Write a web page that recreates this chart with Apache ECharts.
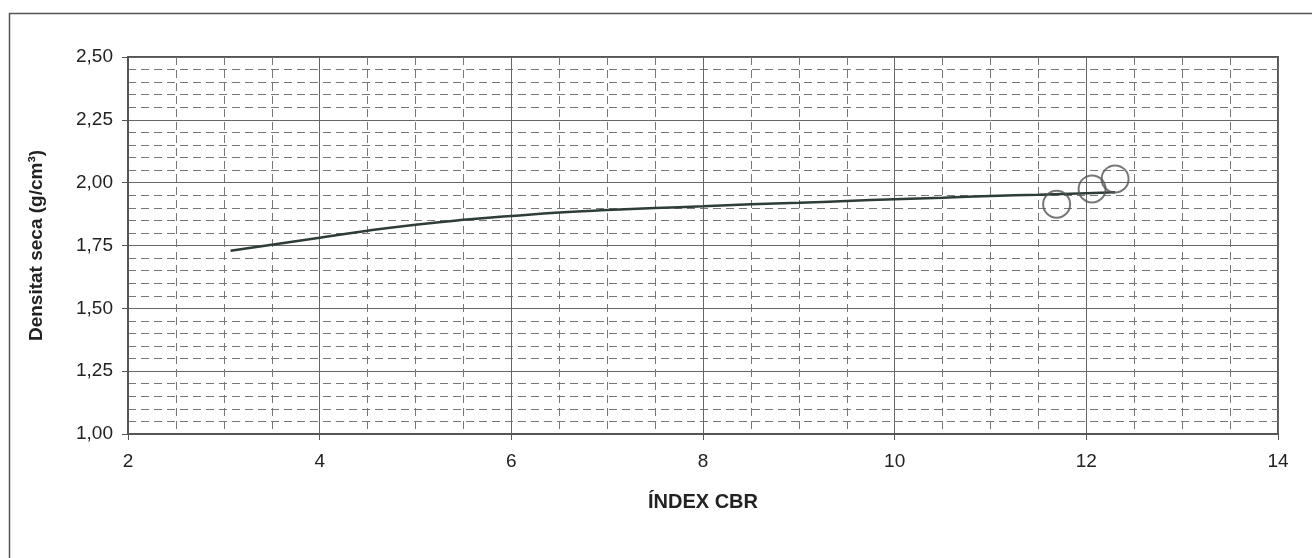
<!DOCTYPE html>
<html>
<head>
<meta charset="utf-8">
<script src="https://cdn.jsdelivr.net/npm/echarts@6/dist/echarts.min.js"></script>
<style>html,body{margin:0;padding:0;background:#fff;}#c{width:1312px;height:558px;}</style>
</head>
<body>
<div id="c"></div>
<script>
// Trend line
const trendX = [3.07, 4.0, 4.5, 5.0, 5.5, 6.0, 6.5, 7.0, 7.5, 8.0, 8.5, 9.0, 9.5, 10.0, 10.5, 11.0, 11.5, 12.0, 12.3];
const trendY = [1.729, 1.781, 1.809, 1.833, 1.852, 1.867, 1.881, 1.891, 1.899, 1.906, 1.914, 1.920, 1.927, 1.934, 1.940, 1.947, 1.952, 1.958, 1.962];
// Measured points
const pointX = [11.69, 12.06, 12.30];
const pointY = [1.914, 1.975, 2.015];

const xTitle = 'ÍNDEX CBR';
const yTitle = 'Densitat seca (g/cm³)';

const chart = echarts.init(document.getElementById('c'), null, {renderer: 'canvas'});
const textColor = '#222';
const font = '"Liberation Sans", Arial, sans-serif';
chart.setOption({
  backgroundColor: '#fff',
  animation: false,
  graphic: [{
    type: 'rect', left: 7, top: 11, shape: {width: 1330, height: 580},
    style: {fill: 'none', stroke: '#555', lineWidth: 1.5}, silent: true, z: -1
  }],
  grid: {left: 128, right: 34, top: 57, height: 377, show: true, borderColor: '#555', borderWidth: 2, backgroundColor: 'transparent'},
  xAxis: {
    type: 'value', min: 2, max: 14, interval: 2,
    name: xTitle, nameLocation: 'middle', nameGap: 58,
    nameTextStyle: {color: textColor, fontSize: 20, fontWeight: 'bold', fontFamily: font},
    axisLine: {show: true, onZero: false, lineStyle: {color: '#555', width: 2}},
    axisTick: {show: true, length: 6, lineStyle: {color: '#555'}},
    axisLabel: {color: textColor, fontSize: 19, fontFamily: font, margin: 18},
    splitLine: {show: true, lineStyle: {color: '#666', width: 1}},
    minorTick: {show: false, splitNumber: 4},
    minorSplitLine: {show: true, lineStyle: {color: '#777', width: 1, type: [8, 5]}}
  },
  yAxis: {
    type: 'value', min: 1, max: 2.5, interval: 0.25,
    name: yTitle, nameLocation: 'middle', nameGap: 82, nameRotate: 90,
    nameTextStyle: {color: textColor, fontSize: 19, fontWeight: 'bold', fontFamily: font},
    axisLine: {show: true, onZero: false, lineStyle: {color: '#555', width: 2}},
    axisTick: {show: true, length: 6, lineStyle: {color: '#555'}},
    axisLabel: {color: textColor, fontSize: 19, fontFamily: font, margin: 15,
      formatter: v => v.toFixed(2).replace('.', ',')},
    splitLine: {show: true, lineStyle: {color: '#666', width: 1}},
    minorTick: {show: false, splitNumber: 5},
    minorSplitLine: {show: true, lineStyle: {color: '#777', width: 1, type: [8, 5]}}
  },
  series: [
    {
      type: 'line', smooth: true, showSymbol: false, symbol: 'none',
      data: trendX.map((x, i) => [x, trendY[i]]),
      lineStyle: {color: '#2e3d38', width: 2.5}, z: 3
    },
    {
      type: 'scatter', symbol: 'circle', symbolSize: 27,
      data: pointX.map((x, i) => [x, pointY[i]]),
      itemStyle: {color: 'transparent', borderColor: '#555', borderWidth: 2}, z: 4
    }
  ]
});
</script>
</body>
</html>
